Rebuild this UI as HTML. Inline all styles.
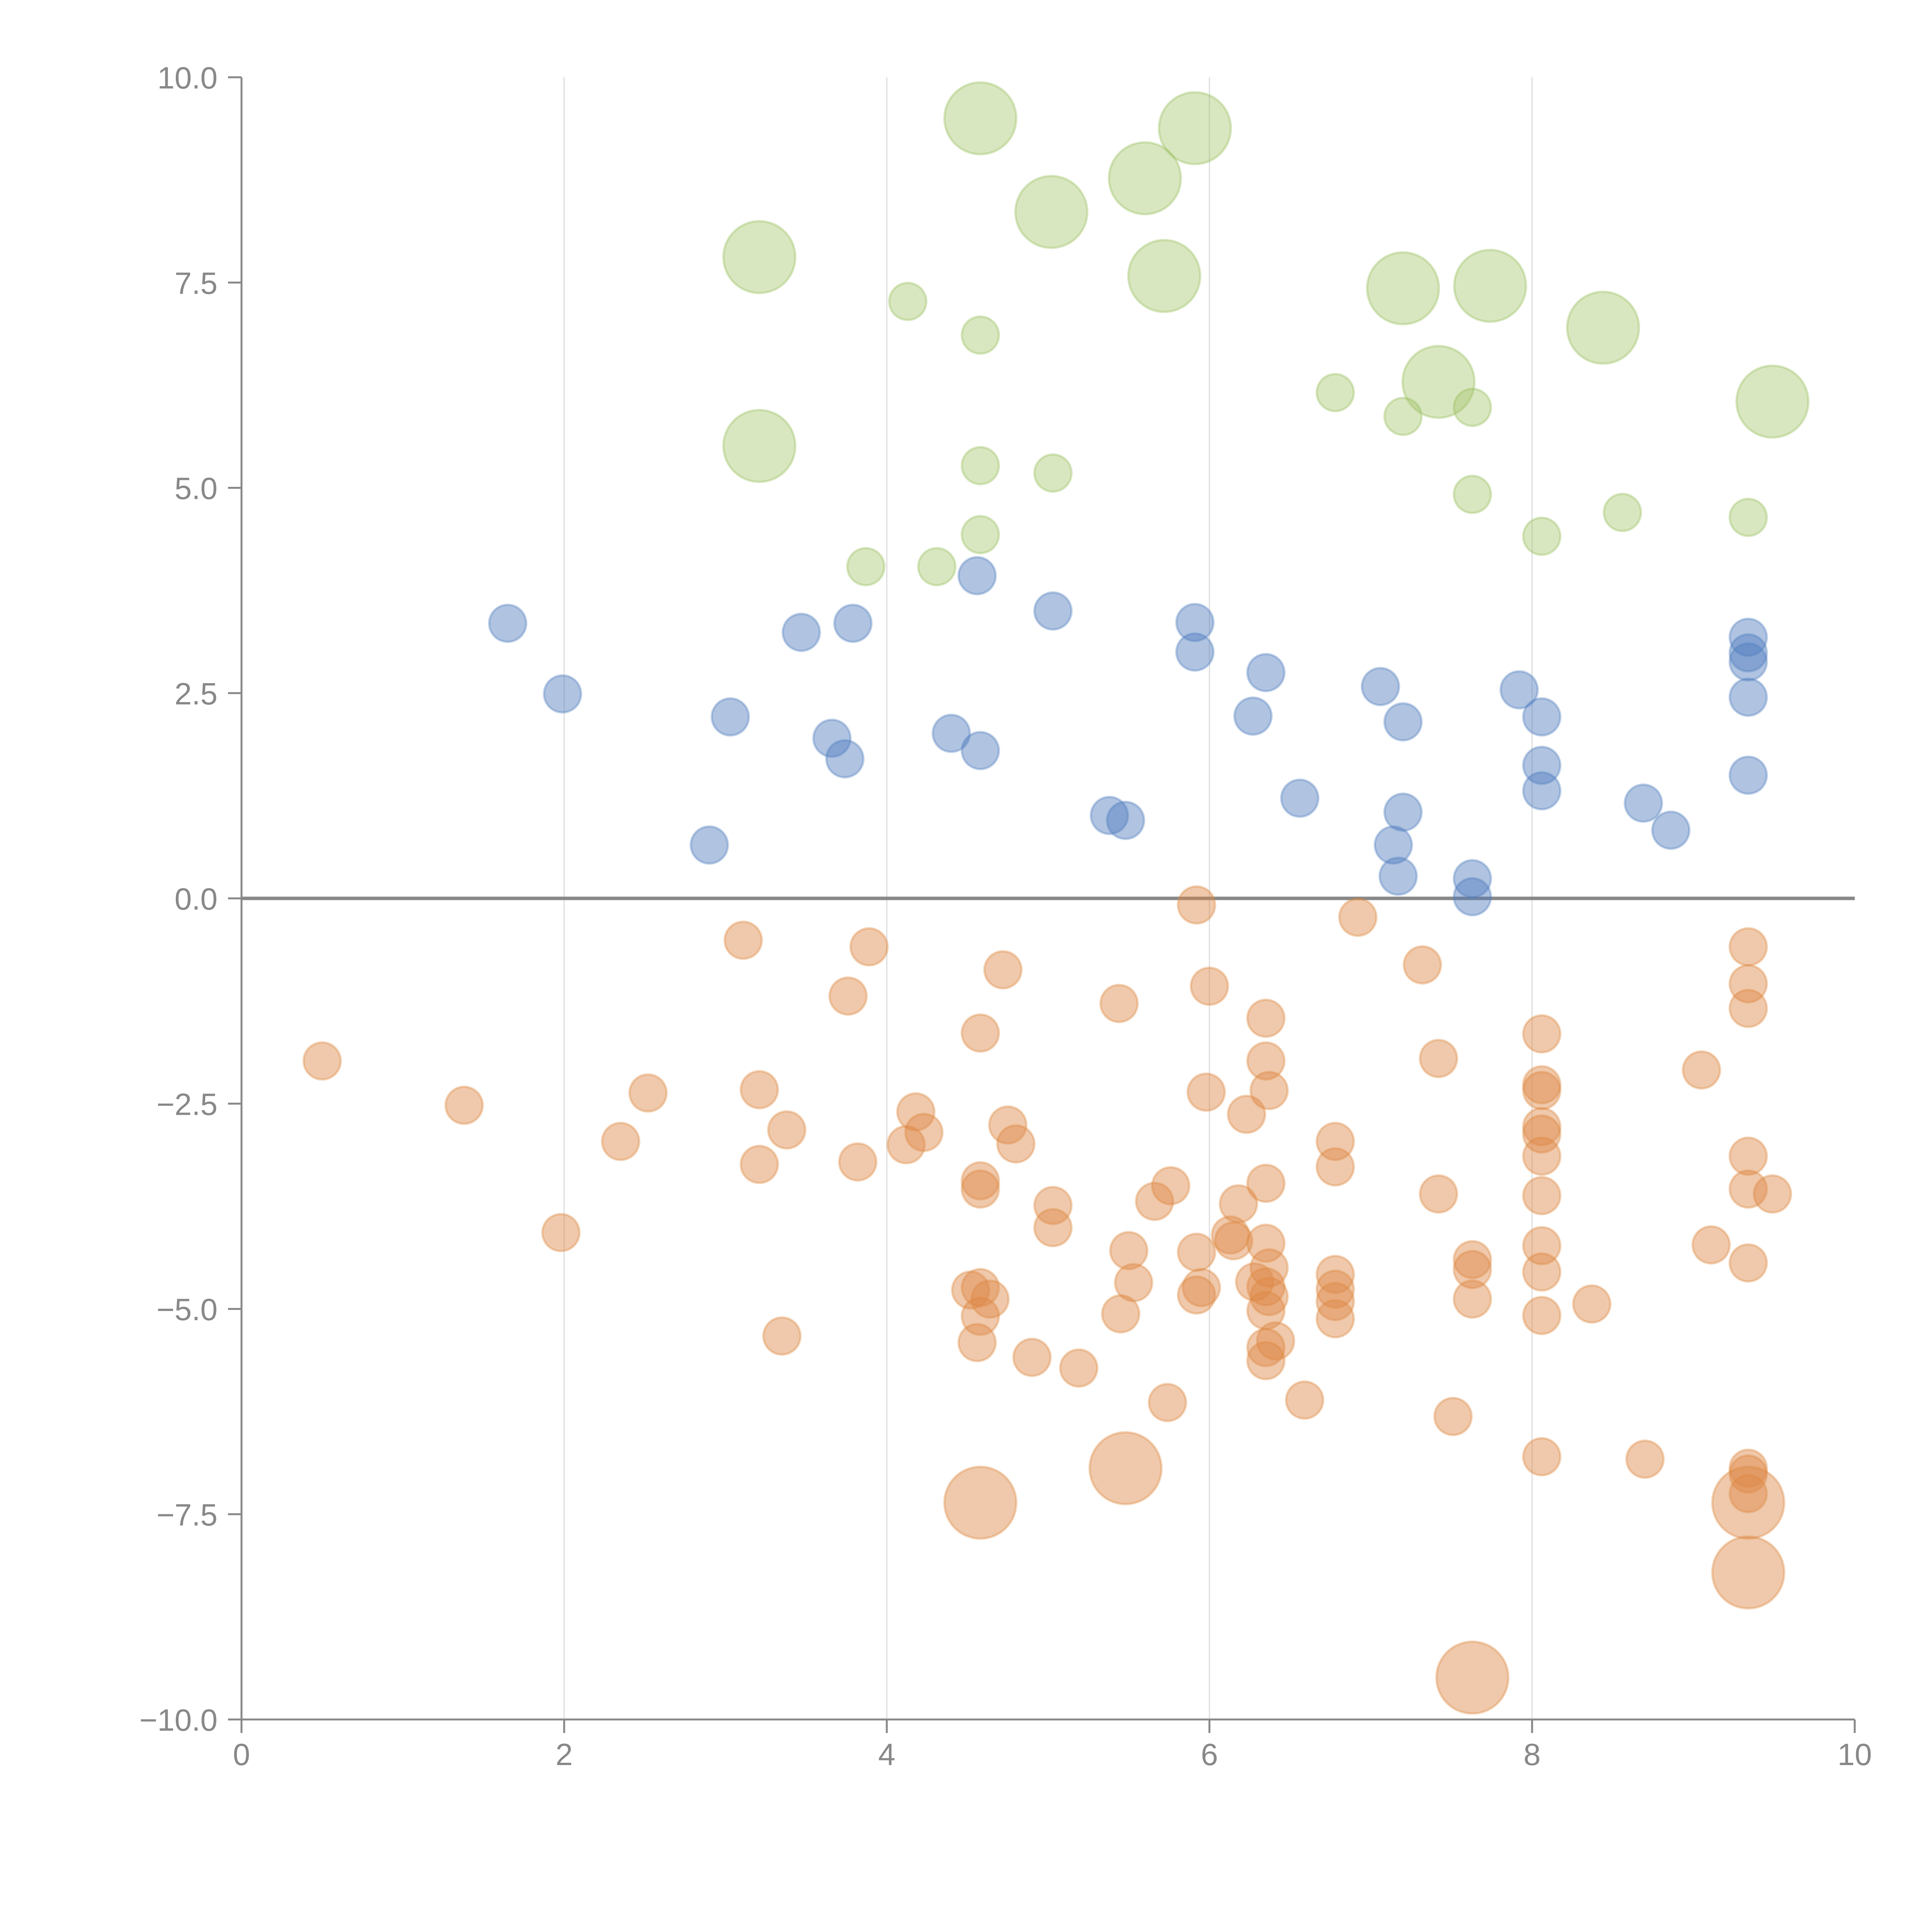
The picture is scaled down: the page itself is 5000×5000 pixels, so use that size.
<!DOCTYPE html>
<html><head><meta charset="utf-8">
<style>
html,body{margin:0;padding:0;background:#fff;}
svg{display:block;font-family:"Liberation Sans",Arial,sans-serif;}
</style></head>
<body>
<svg id="chart" width="5000" height="5000" viewBox="0 0 5000 5000" xmlns="http://www.w3.org/2000/svg">
<g id="grid"></g>
<g id="axes"></g>
<g id="marks"></g>
</svg>
<script>
const xTicks=[0,2,4,6,8,10];
const yTicks=[-10,-7.5,-5,-2.5,0,2.5,5,7.5,10];
const yTickLabels=["\u221210.0","\u22127.5","\u22125.0","\u22122.5","0.0","2.5","5.0","7.5","10.0"];
const greenX=[4.58,5.91,5.60,5.02,3.21,5.72,7.20,7.74,8.44,7.42,9.49,3.21,4.13,4.58,6.78,7.20,7.63,4.58,5.03,7.63,8.56,9.34,8.06,4.58,3.87,4.31];
const greenY=[9.50,9.38,8.77,8.36,7.81,7.58,7.43,7.46,6.95,6.29,6.05,5.51,7.27,6.86,6.16,5.87,5.98,5.27,5.18,4.92,4.70,4.64,4.41,4.43,4.04,4.04];
const greenS=[2,2,2,2,2,2,2,2,2,2,2,2,1,1,1,1,1,1,1,1,1,1,1,1,1,1];
const blueX=[1.65,1.99,3.03,3.47,3.79,3.66,3.74,2.90,4.40,4.58,4.56,5.03,5.91,5.91,6.35,6.27,6.56,5.38,5.48,7.06,7.20,7.20,7.14,7.17,7.63,7.63,7.92,8.06,8.06,8.06,8.69,8.86,9.34,9.34,9.34,9.34,9.34];
const blueY=[3.35,2.49,2.21,3.24,3.35,1.95,1.70,0.65,2.01,1.80,3.93,3.50,3.36,3.00,2.75,2.22,1.22,1.01,0.95,2.58,2.15,1.05,0.65,0.27,0.24,0.02,2.54,2.21,1.62,1.31,1.16,0.83,3.18,2.99,2.88,2.45,1.50];
const orangeX=[0.50,1.38,1.98,2.35,2.52,3.11,3.21,3.21,3.38,3.35,3.89,3.76,3.82,4.12,4.18,4.23,4.58,4.72,4.58,4.58,4.75,4.80,4.52,4.58,4.64,4.58,4.56,4.90,5.03,5.03,5.19,5.44,5.50,5.53,5.45,5.66,5.76,5.74,5.92,6.00,5.98,5.92,5.95,5.92,6.18,6.23,6.13,6.15,6.28,6.35,6.35,6.37,6.35,6.35,6.37,6.35,6.37,6.35,6.41,6.35,6.35,6.59,6.78,6.78,6.78,6.78,6.78,6.78,6.92,7.32,7.42,7.42,7.51,7.63,7.63,7.63,8.06,8.06,8.06,8.06,8.06,8.06,8.06,8.06,8.06,8.06,8.06,8.37,8.70,9.05,9.11,9.34,9.34,9.34,9.34,9.34,9.49,9.34,9.34,9.34,9.34,4.58,5.48,9.34,9.34,7.63];
const orangeY=[-1.98,-2.52,-4.07,-2.96,-2.37,-0.51,-2.33,-3.24,-2.82,-5.33,-0.59,-1.19,-3.21,-3.00,-2.60,-2.85,-1.64,-0.87,-3.44,-3.54,-2.76,-2.99,-4.77,-4.74,-4.88,-5.09,-5.41,-5.59,-3.74,-4.01,-5.72,-1.28,-4.29,-4.68,-5.06,-3.69,-3.50,-6.14,-0.08,-1.07,-2.36,-4.31,-4.74,-4.83,-3.72,-2.63,-4.10,-4.17,-4.67,-1.46,-1.98,-2.34,-3.47,-4.20,-4.50,-4.73,-4.85,-5.02,-5.39,-5.47,-5.63,-6.11,-2.96,-3.27,-4.58,-4.76,-4.91,-5.12,-0.23,-0.81,-1.95,-3.60,-6.31,-4.40,-4.52,-4.88,-1.65,-2.27,-2.34,-2.78,-2.87,-3.14,-3.62,-4.23,-4.55,-5.08,-6.80,-4.94,-6.83,-2.09,-4.22,-0.59,-1.04,-1.34,-3.14,-3.54,-3.60,-4.44,-6.94,-7.01,-7.25,-7.36,-6.94,-7.36,-8.21,-9.49];
const orangeS=orangeX.map((_,i)=>i>=orangeX.length-5?2:1);
const blueS=blueX.map(()=>1);

const NS="http://www.w3.org/2000/svg";
const X0=625,X1=4800,Y0=4450,Y1=200;
function sx(v){return X0+(v-0)/(10-0)*(X1-X0);}
function sy(v){return Y0-(v+10)/20*(Y0-Y1);}
function sr(s){return s===2?93:48;}
function mk(tag,attrs,parent){const e=document.createElementNS(NS,tag);for(const k in attrs)e.setAttribute(k,attrs[k]);parent.appendChild(e);return e;}
const grid=document.getElementById('grid'),axes=document.getElementById('axes'),marks=document.getElementById('marks');

xTicks.forEach(t=>{
  if(t>0&&t<10){const l=mk('line',{x1:sx(t),x2:sx(t),y1:Y1,y2:Y0,stroke:'#dddddd','stroke-width':3},grid);
  
  }
  const tk=mk('line',{x1:sx(t),x2:sx(t),y1:Y0,y2:Y0+35,stroke:'#888','stroke-width':5},axes);
  
  
  const tx=mk('text',{x:sx(t),y:Y0+118,'text-anchor':'middle','font-size':80,fill:'#888'},axes);
  tx.textContent=String(t);
  
  
});
yTicks.forEach((t,i)=>{
  const tk=mk('line',{x1:X0-35,x2:X0,y1:sy(t),y2:sy(t),stroke:'#888','stroke-width':5},axes);
  
  
  const tx=mk('text',{x:X0-62,y:sy(t)+29,'text-anchor':'end','font-size':80,fill:'#888'},axes);
  tx.textContent=yTickLabels[i];
  
  
});
const ya=mk('line',{x1:X0,x2:X0,y1:Y1,y2:Y0+35,stroke:'#888','stroke-width':5},axes);


const xa=mk('line',{x1:X0-35,x2:X1,y1:Y0,y2:Y0,stroke:'#888','stroke-width':5},axes);


const zl=mk('line',{x1:X0,x2:X1,y1:sy(0),y2:sy(0),stroke:'#888','stroke-width':9},axes);



function series(xs,ys,ss,fill,stroke,name){
  xs.forEach((x,i)=>{
    const c=mk('circle',{cx:sx(x),cy:sy(ys[i]),r:sr(ss[i]),fill:fill,stroke:stroke,'stroke-width':6},marks);
    
    
  });
}
series(orangeX,orangeY,orangeS,'rgba(222,135,70,0.45)','rgba(222,135,60,0.35)','orange-bubble');
series(blueX,blueY,blueS,'rgba(80,125,190,0.45)','rgba(80,125,190,0.35)','blue-bubble');
series(greenX,greenY,greenS,'rgba(160,195,100,0.4)','rgba(150,190,90,0.35)','green-bubble');
</script>
</body></html>
